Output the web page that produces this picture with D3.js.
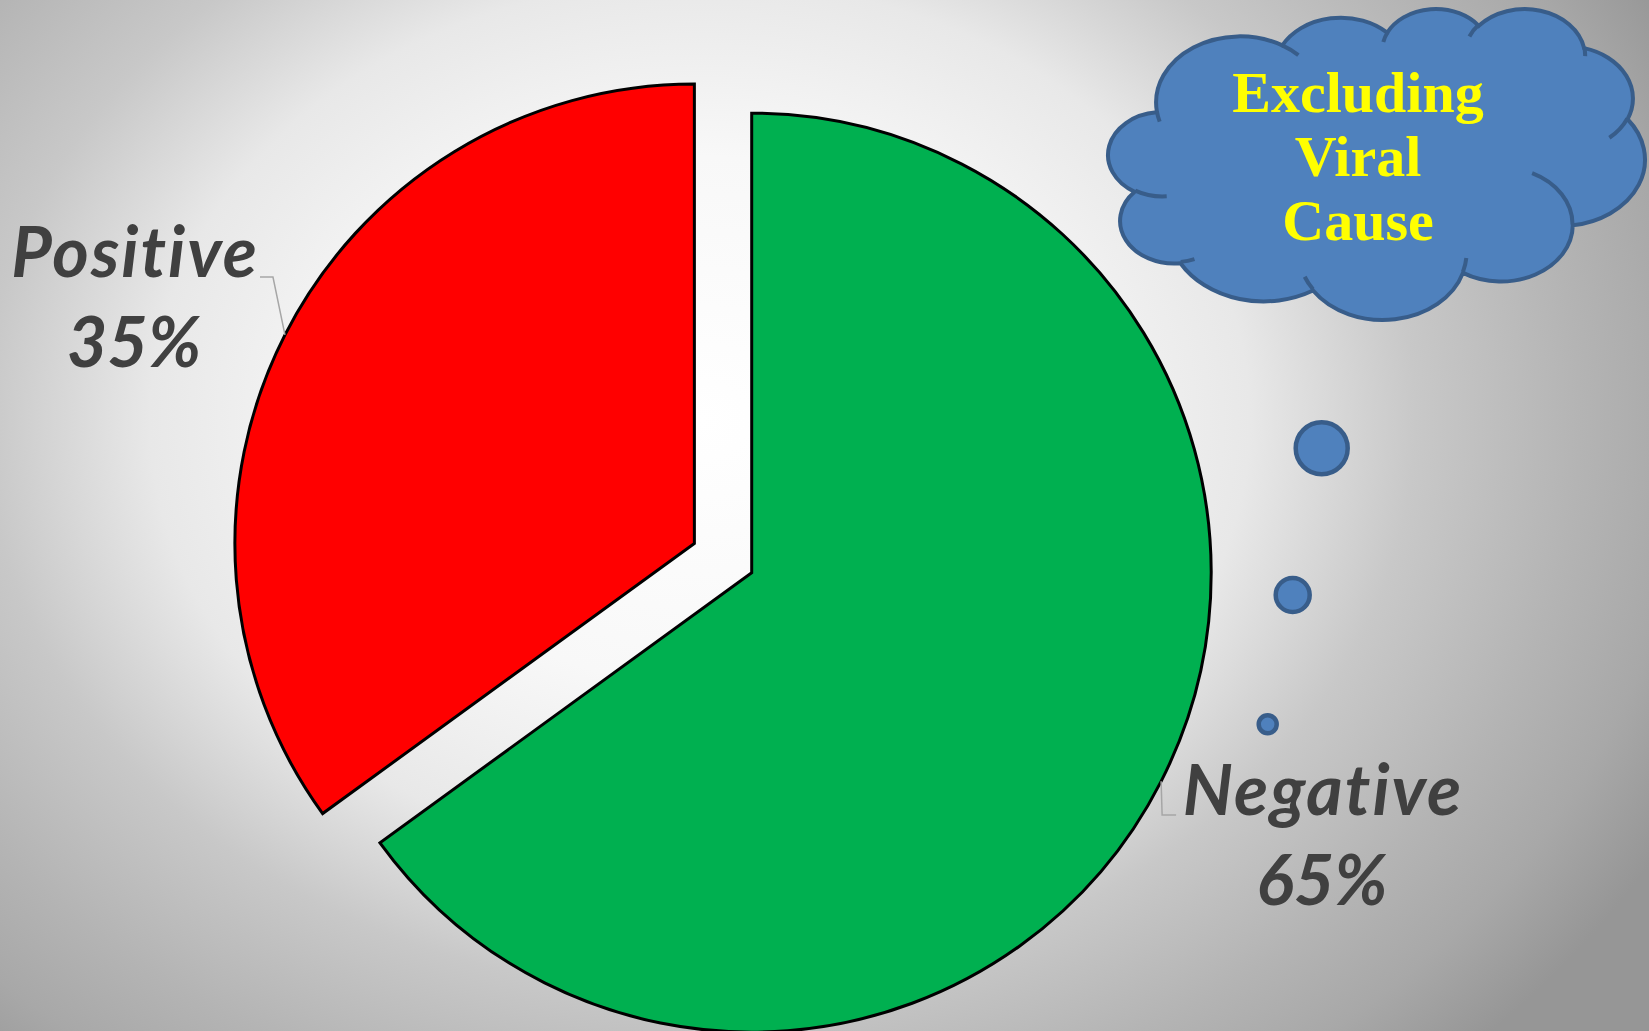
<!DOCTYPE html>
<html>
<head>
<meta charset="utf-8">
<script src="https://cdn.jsdelivr.net/npm/d3@7"></script>
<style>
  html, body { margin: 0; padding: 0; overflow: hidden; background: #ffffff; }
  svg { display: block; }
</style>
</head>
<body>
<svg id="chart" width="1649" height="1031"></svg>
<script>
// ---- data ----
const categories = ["Negative", "Positive"];
const shares = [65, 35];
const calloutLines = ["Excluding", "Viral", "Cause"];
const bubbleSizes = [26, 17, 9];

// ---- layout ----
const W = 1649, H = 1031;
const cx = 751.7, cy = 572.7, R = 459.5;
const explodeFrac = { Negative: 0, Positive: 0.14 };
const color = d3.scaleOrdinal().domain(categories).range(["#00b050", "#ff0000"]);

const svg = d3.select("#chart");
const defs = svg.append("defs");

// soft radial background
const bg = defs.append("radialGradient")
  .attr("id", "bg")
  .attr("gradientUnits", "userSpaceOnUse")
  .attr("cx", 700).attr("cy", 420).attr("r", 1100)
  .attr("gradientTransform", "translate(700,420) scale(1,0.8) translate(-700,-420)");
[[0, "#ffffff"], [0.3, "#f8f8f8"], [0.5, "#e8e8e8"], [0.65, "#c8c8c8"],
 [0.8, "#b4b4b4"], [0.9, "#a8a8a8"], [1, "#969696"]]
  .forEach(([o, c]) => bg.append("stop").attr("offset", o).attr("stop-color", c));
svg.append("rect").attr("width", W).attr("height", H).attr("fill", "url(#bg)");

// ---- pie ----
const data = categories.map((c, i) => ({ category: c, value: shares[i] }));
const total = d3.sum(shares);
const pie = d3.pie().sort(null).value(d => d.value);
const arc = d3.arc().innerRadius(0).outerRadius(R);
const rim = d3.arc().innerRadius(R).outerRadius(R);
const arcs = pie(data);

const offsetOf = d => {
  const mid = (d.startAngle + d.endAngle) / 2;
  const off = explodeFrac[d.data.category] * R;
  return [off * Math.sin(mid), -off * Math.cos(mid)];
};

const pieG = svg.append("g").attr("transform", `translate(${cx},${cy})`);
pieG.selectAll("path.slice")
  .data(arcs)
  .join("path")
  .attr("class", "slice")
  .attr("transform", d => `translate(${offsetOf(d)})`)
  .attr("d", arc)
  .attr("fill", d => color(d.data.category))
  .attr("stroke", "#000")
  .attr("stroke-width", 3)
  .attr("stroke-linejoin", "miter");

// ---- data labels with leader lines ----
const labelAnchor = {
  Positive: { x: 134, y: 277, side: -1 },
  Negative: { x: 1322, y: 815, side: 1 }
};
const pct = d3.format(".0%");
const labelFont = "Lato, 'Open Sans', 'Noto Sans', sans-serif";

arcs.forEach(d => {
  const [ox, oy] = offsetOf(d);
  const [px, py] = rim.centroid(d);
  const ax = cx + ox + px, ay = cy + oy + py;
  const a = labelAnchor[d.data.category];
  const elbowY = a.y;
  const elbowX = ax + (a.side < 0 ? -12 : 1);
  const endX = elbowX + (a.side < 0 ? -13 : 14);
  svg.append("path")
    .attr("d", d3.line()([[ax, ay], [elbowX, elbowY], [endX, elbowY]]))
    .attr("fill", "none")
    .attr("stroke", "#a6a6a6")
    .attr("stroke-width", 1.5);

  const t = svg.append("text")
    .attr("x", a.x).attr("y", a.y)
    .attr("text-anchor", "middle")
    .attr("font-family", labelFont)
    .attr("font-weight", 700)
    .attr("font-style", "italic")
    .attr("font-size", 70)
    .style("font-variant-ligatures", "none")
    .attr("fill", "#404040");
  t.append("tspan").attr("x", a.x + 1).attr("letter-spacing", 2).text(d.data.category);
  t.append("tspan").attr("x", a.x).attr("dy", 90).text(pct(d.data.value / total));
});

// ---- thought cloud (preset cloud outline, 43200-unit space) ----
function ooArc(state, wR, hR, stAng, swAng) {
  const a1 = stAng / 60000 * Math.PI / 180;
  const a2 = (stAng + swAng) / 60000 * Math.PI / 180;
  const t1 = Math.atan2(wR * Math.sin(a1), hR * Math.cos(a1));
  let t2 = Math.atan2(wR * Math.sin(a2), hR * Math.cos(a2));
  const ccx = state.x - wR * Math.cos(t1);
  const ccy = state.y - hR * Math.sin(t1);
  let dt = t2 - t1;
  if (swAng > 0) { while (dt <= 0) dt += 2 * Math.PI; }
  else { while (dt >= 0) dt -= 2 * Math.PI; }
  const ex = ccx + wR * Math.cos(t2), ey = ccy + hR * Math.sin(t2);
  state.x = ex; state.y = ey;
  return ` A ${wR} ${hR} 0 ${Math.abs(dt) > Math.PI ? 1 : 0} ${swAng > 0 ? 1 : 0} ${ex} ${ey}`;
}
const outlineArcs = [
  [6753, 9190, -11429249, 7426832], [5333, 7267, -8646143, 5396714],
  [4365, 5945, -8748475, 5983381], [4857, 6595, -7859164, 7034504],
  [5333, 7273, -4722533, 6541615], [6775, 9220, -2776035, 7816140],
  [5785, 7867, 37501, 6842000], [6752, 9215, 1347096, 6910353],
  [7720, 10543, 3974558, 4542661], [4360, 5918, -16496525, 8804134],
  [4345, 5945, -14809710, 9151131]
];
const innerArcs = [
  [4693, 26177, 4345, 5945, 5204520, 1585770], [6928, 34899, 4360, 5918, 4416628, 686848],
  [16478, 39090, 6752, 9215, 8257449, 844866], [28827, 34751, 6752, 9215, 387196, 959901],
  [34129, 22954, 5785, 7867, -4217541, 4255042], [41798, 15354, 5333, 7273, 1819082, 1665090],
  [38324, 5426, 4857, 6595, -824660, 891534], [29078, 3952, 4857, 6595, -8950887, 1091722],
  [22141, 4720, 4365, 5945, -9809656, 1061181], [14000, 5192, 6753, 9190, -4002417, 739161],
  [4127, 15789, 6753, 9190, 9459261, 711490]
];
let st = { x: 3900, y: 14370 };
let outlineD = `M ${st.x} ${st.y}`;
outlineArcs.forEach(p => { outlineD += ooArc(st, ...p); });
outlineD += " Z";
let innerD = "";
innerArcs.forEach(([x, y, wR, hR, s, w]) => {
  const s2 = { x, y };
  innerD += ` M ${x} ${y}` + ooArc(s2, wR, hR, s, w);
});

const cloud = svg.append("g");
const cloudShape = cloud.append("g");
const outline = cloudShape.append("path").attr("d", outlineD)
  .attr("fill", "#4f81bd").attr("stroke", "#385d8a").attr("vector-effect", "non-scaling-stroke")
  .attr("stroke-width", 4);
cloudShape.append("path").attr("d", innerD)
  .attr("fill", "none").attr("stroke", "#385d8a").attr("vector-effect", "non-scaling-stroke")
  .attr("stroke-width", 4);
// fit the outline to its box on the slide
const bb = outline.node().getBBox();
const box = { x0: 1108, y0: 9, x1: 1645, y1: 320 };
const sx = (box.x1 - box.x0) / bb.width, sy = (box.y1 - box.y0) / bb.height;
cloudShape.attr("transform",
  `translate(${box.x0 - bb.x * sx},${box.y0 - bb.y * sy}) scale(${sx},${sy})`);

const cloudText = cloud.append("text")
  .attr("text-anchor", "middle")
  .attr("font-family", "'Liberation Serif', 'DejaVu Serif', serif")
  .attr("font-weight", 700)
  .attr("font-size", 58)
  .attr("fill", "#ffff00");
calloutLines.forEach((line, i) => {
  cloudText.append("tspan").attr("x", 1358).attr("y", 112 + i * 64).text(line);
});

// trailing thought bubbles
const bubbleCenters = [[1321.7, 448.3], [1292.7, 595], [1267.7, 724.3]];
svg.selectAll("circle.bubble")
  .data(bubbleSizes)
  .join("circle")
  .attr("class", "bubble")
  .attr("cx", (d, i) => bubbleCenters[i][0])
  .attr("cy", (d, i) => bubbleCenters[i][1])
  .attr("r", d => d)
  .attr("fill", "#4f81bd")
  .attr("stroke", "#385d8a")
  .attr("stroke-width", 4.5);
</script>
</body>
</html>
